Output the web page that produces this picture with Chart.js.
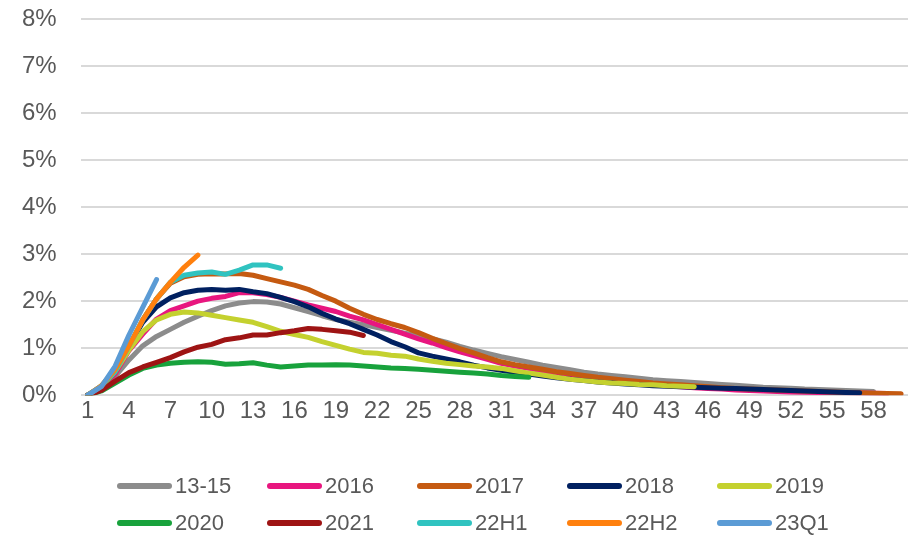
<!DOCTYPE html>
<html>
<head>
<meta charset="utf-8">
<script src="https://cdn.jsdelivr.net/npm/chart.js@4"></script>
<style>
  html, body { margin: 0; padding: 0; background: #ffffff; }
  #wrap { width: 914px; height: 540px; position: relative; }
</style>
</head>
<body>
<div id="wrap"><canvas id="c"></canvas></div>
<script>
// ---- data (values in %) ----
const categories = ["1","2","3","4","5","6","7","8","9","10","11","12","13","14","15","16","17","18","19","20",
  "21","22","23","24","25","26","27","28","29","30","31","32","33","34","35","36","37","38","39","40",
  "41","42","43","44","45","46","47","48","49","50","51","52","53","54","55","56","57","58","59","60"];

const seriesNames = ["13-15","2016","2017","2018","2019","2020","2021","22H1","22H2","23Q1"];

const s1315 = [0,0.14,0.4,0.75,1.05,1.25,1.4,1.55,1.68,1.8,1.9,1.96,1.99,1.98,1.94,1.86,1.78,1.69,1.61,1.55,
  1.5,1.44,1.38,1.32,1.26,1.2,1.13,1.04,0.96,0.89,0.82,0.76,0.7,0.64,0.59,0.54,0.49,0.45,0.42,0.39,
  0.36,0.33,0.31,0.29,0.27,0.25,0.23,0.21,0.19,0.17,0.16,0.15,0.13,0.12,0.11,0.1,0.09,0.08];
const s2016 = [0,0.15,0.45,0.95,1.3,1.62,1.8,1.9,2.0,2.06,2.1,2.18,2.18,2.14,2.08,2.0,1.92,1.85,1.78,1.68,
  1.6,1.5,1.4,1.3,1.2,1.11,1.01,0.92,0.84,0.76,0.68,0.62,0.57,0.52,0.47,0.43,0.39,0.35,0.32,0.29,
  0.26,0.23,0.2,0.18,0.16,0.14,0.13,0.11,0.1,0.09,0.08,0.07,0.065,0.06,0.055,0.05,0.045,0.04,0.035];
const s2017 = [0,0.18,0.5,1.0,1.6,2.05,2.38,2.52,2.57,2.58,2.58,2.59,2.55,2.48,2.41,2.34,2.25,2.12,2.0,1.85,
  1.72,1.61,1.52,1.44,1.33,1.21,1.1,0.99,0.9,0.8,0.71,0.65,0.6,0.55,0.5,0.46,0.42,0.38,0.35,0.32,
  0.29,0.26,0.24,0.22,0.2,0.18,0.16,0.14,0.13,0.12,0.11,0.1,0.09,0.08,0.07,0.06,0.05,0.04,0.035,0.03];
const s2018 = [0,0.17,0.5,1.05,1.55,1.88,2.07,2.18,2.23,2.25,2.23,2.25,2.2,2.16,2.08,1.99,1.88,1.74,1.62,1.52,
  1.4,1.28,1.14,1.03,0.9,0.83,0.77,0.71,0.64,0.58,0.53,0.49,0.45,0.41,0.37,0.34,0.31,0.28,0.26,0.24,
  0.22,0.2,0.19,0.18,0.17,0.16,0.15,0.14,0.13,0.12,0.11,0.1,0.09,0.08,0.07,0.06,0.05];
const s2019 = [0,0.18,0.5,0.96,1.35,1.6,1.72,1.77,1.75,1.7,1.65,1.6,1.55,1.46,1.36,1.29,1.23,1.14,1.06,0.98,
  0.91,0.89,0.85,0.83,0.77,0.72,0.68,0.65,0.62,0.6,0.57,0.52,0.47,0.43,0.38,0.34,0.31,0.28,0.26,0.25,
  0.23,0.22,0.2,0.19,0.18];
const s2020 = [0,0.09,0.26,0.43,0.57,0.64,0.68,0.7,0.71,0.7,0.66,0.67,0.69,0.64,0.6,0.62,0.64,0.64,0.65,0.64,
  0.62,0.6,0.58,0.57,0.55,0.53,0.51,0.49,0.47,0.45,0.42,0.4,0.38];
const s2021 = [0,0.1,0.3,0.48,0.6,0.7,0.8,0.92,1.02,1.08,1.18,1.22,1.28,1.28,1.33,1.37,1.42,1.4,1.37,1.34,1.27];
const s22H1 = [0,0.2,0.5,1.05,1.6,2.05,2.4,2.55,2.6,2.62,2.57,2.66,2.77,2.77,2.7];
const s22H2 = [0,0.2,0.55,1.05,1.6,2.05,2.4,2.72,2.98];
const s23Q1 = [0,0.18,0.62,1.28,1.87,2.46];

const yTicks = [0,1,2,3,4,5,6,7,8];
const xTickEvery = 3;

const seriesValues = [s1315, s2016, s2017, s2018, s2019, s2020, s2021, s22H1, s22H2, s23Q1];
const seriesColors = ["#8c8c8c","#e8167f","#c55a11","#002060","#c4d12f","#18a23c","#9e1414","#30c3c0","#ff800e","#5b9bd5"];

const n = seriesNames.length;
const datasets = seriesNames.map((name, i) => ({
  label: name,
  data: seriesValues[i],
  borderColor: seriesColors[i],
  backgroundColor: seriesColors[i],
  borderWidth: 5,
  pointRadius: 0,
  pointHoverRadius: 0,
  tension: 0,
  borderCapStyle: 'round',
  borderJoinStyle: 'round',
  fill: false,
  order: n - i   // later series drawn on top, as in the original
}));

const textColor = '#595959';

// legend laid out as a 5-column grid below the plot
const gridLegend = {
  id: 'gridLegend',
  afterDraw(chart) {
    const ctx = chart.ctx;
    const cols = 5, colW = 150, rowH = 37;
    const x0 = 117, y0 = 486, lineLen = 55;
    chart.data.datasets.forEach((ds, i) => {
      const col = i % cols, row = Math.floor(i / cols);
      const x = x0 + col * colW, y = y0 + row * rowH;
      ctx.save();
      ctx.strokeStyle = ds.borderColor;
      ctx.lineWidth = 6;
      ctx.lineCap = 'round';
      ctx.beginPath();
      ctx.moveTo(x + 3, y);
      ctx.lineTo(x + lineLen - 3, y);
      ctx.stroke();
      ctx.fillStyle = textColor;
      ctx.font = '22px "Liberation Sans", Arial, sans-serif';
      ctx.textBaseline = 'middle';
      ctx.textAlign = 'left';
      ctx.fillText(ds.label, x + lineLen + 3, y + 1);
      ctx.restore();
    });
  }
};

new Chart(document.getElementById('c'), {
  type: 'line',
  data: { labels: categories, datasets },
  options: {
    responsive: true,
    maintainAspectRatio: false,
    animation: false,
    layout: { padding: { left: 18, right: 6, top: 19, bottom: 112 } },
    plugins: {
      legend: { display: false },
      tooltip: { enabled: false }
    },
    scales: {
      x: {
        type: 'category',
        offset: true,
        grid: { display: false, drawTicks: false },
        border: { display: false },
        ticks: {
          autoSkip: false,
          maxRotation: 0,
          padding: 2,
          color: textColor,
          font: { family: '"Liberation Sans", Arial, sans-serif', size: 24 },
          callback: function(val, idx) { return idx % xTickEvery === 0 ? categories[idx] : ''; }
        }
      },
      y: {
        min: yTicks[0],
        max: yTicks[yTicks.length - 1],
        afterBuildTicks: (scale) => { scale.ticks = yTicks.map(v => ({ value: v })); },
        grid: { color: '#d9d9d9', lineWidth: 2, drawTicks: true, tickLength: 20, tickColor: 'rgba(0,0,0,0)' },
        border: { display: false },
        ticks: {
          padding: 4,
          color: textColor,
          font: { family: '"Liberation Sans", Arial, sans-serif', size: 24 },
          callback: (v) => v + '%'
        }
      }
    }
  },
  plugins: [gridLegend]
});
</script>
</body>
</html>
